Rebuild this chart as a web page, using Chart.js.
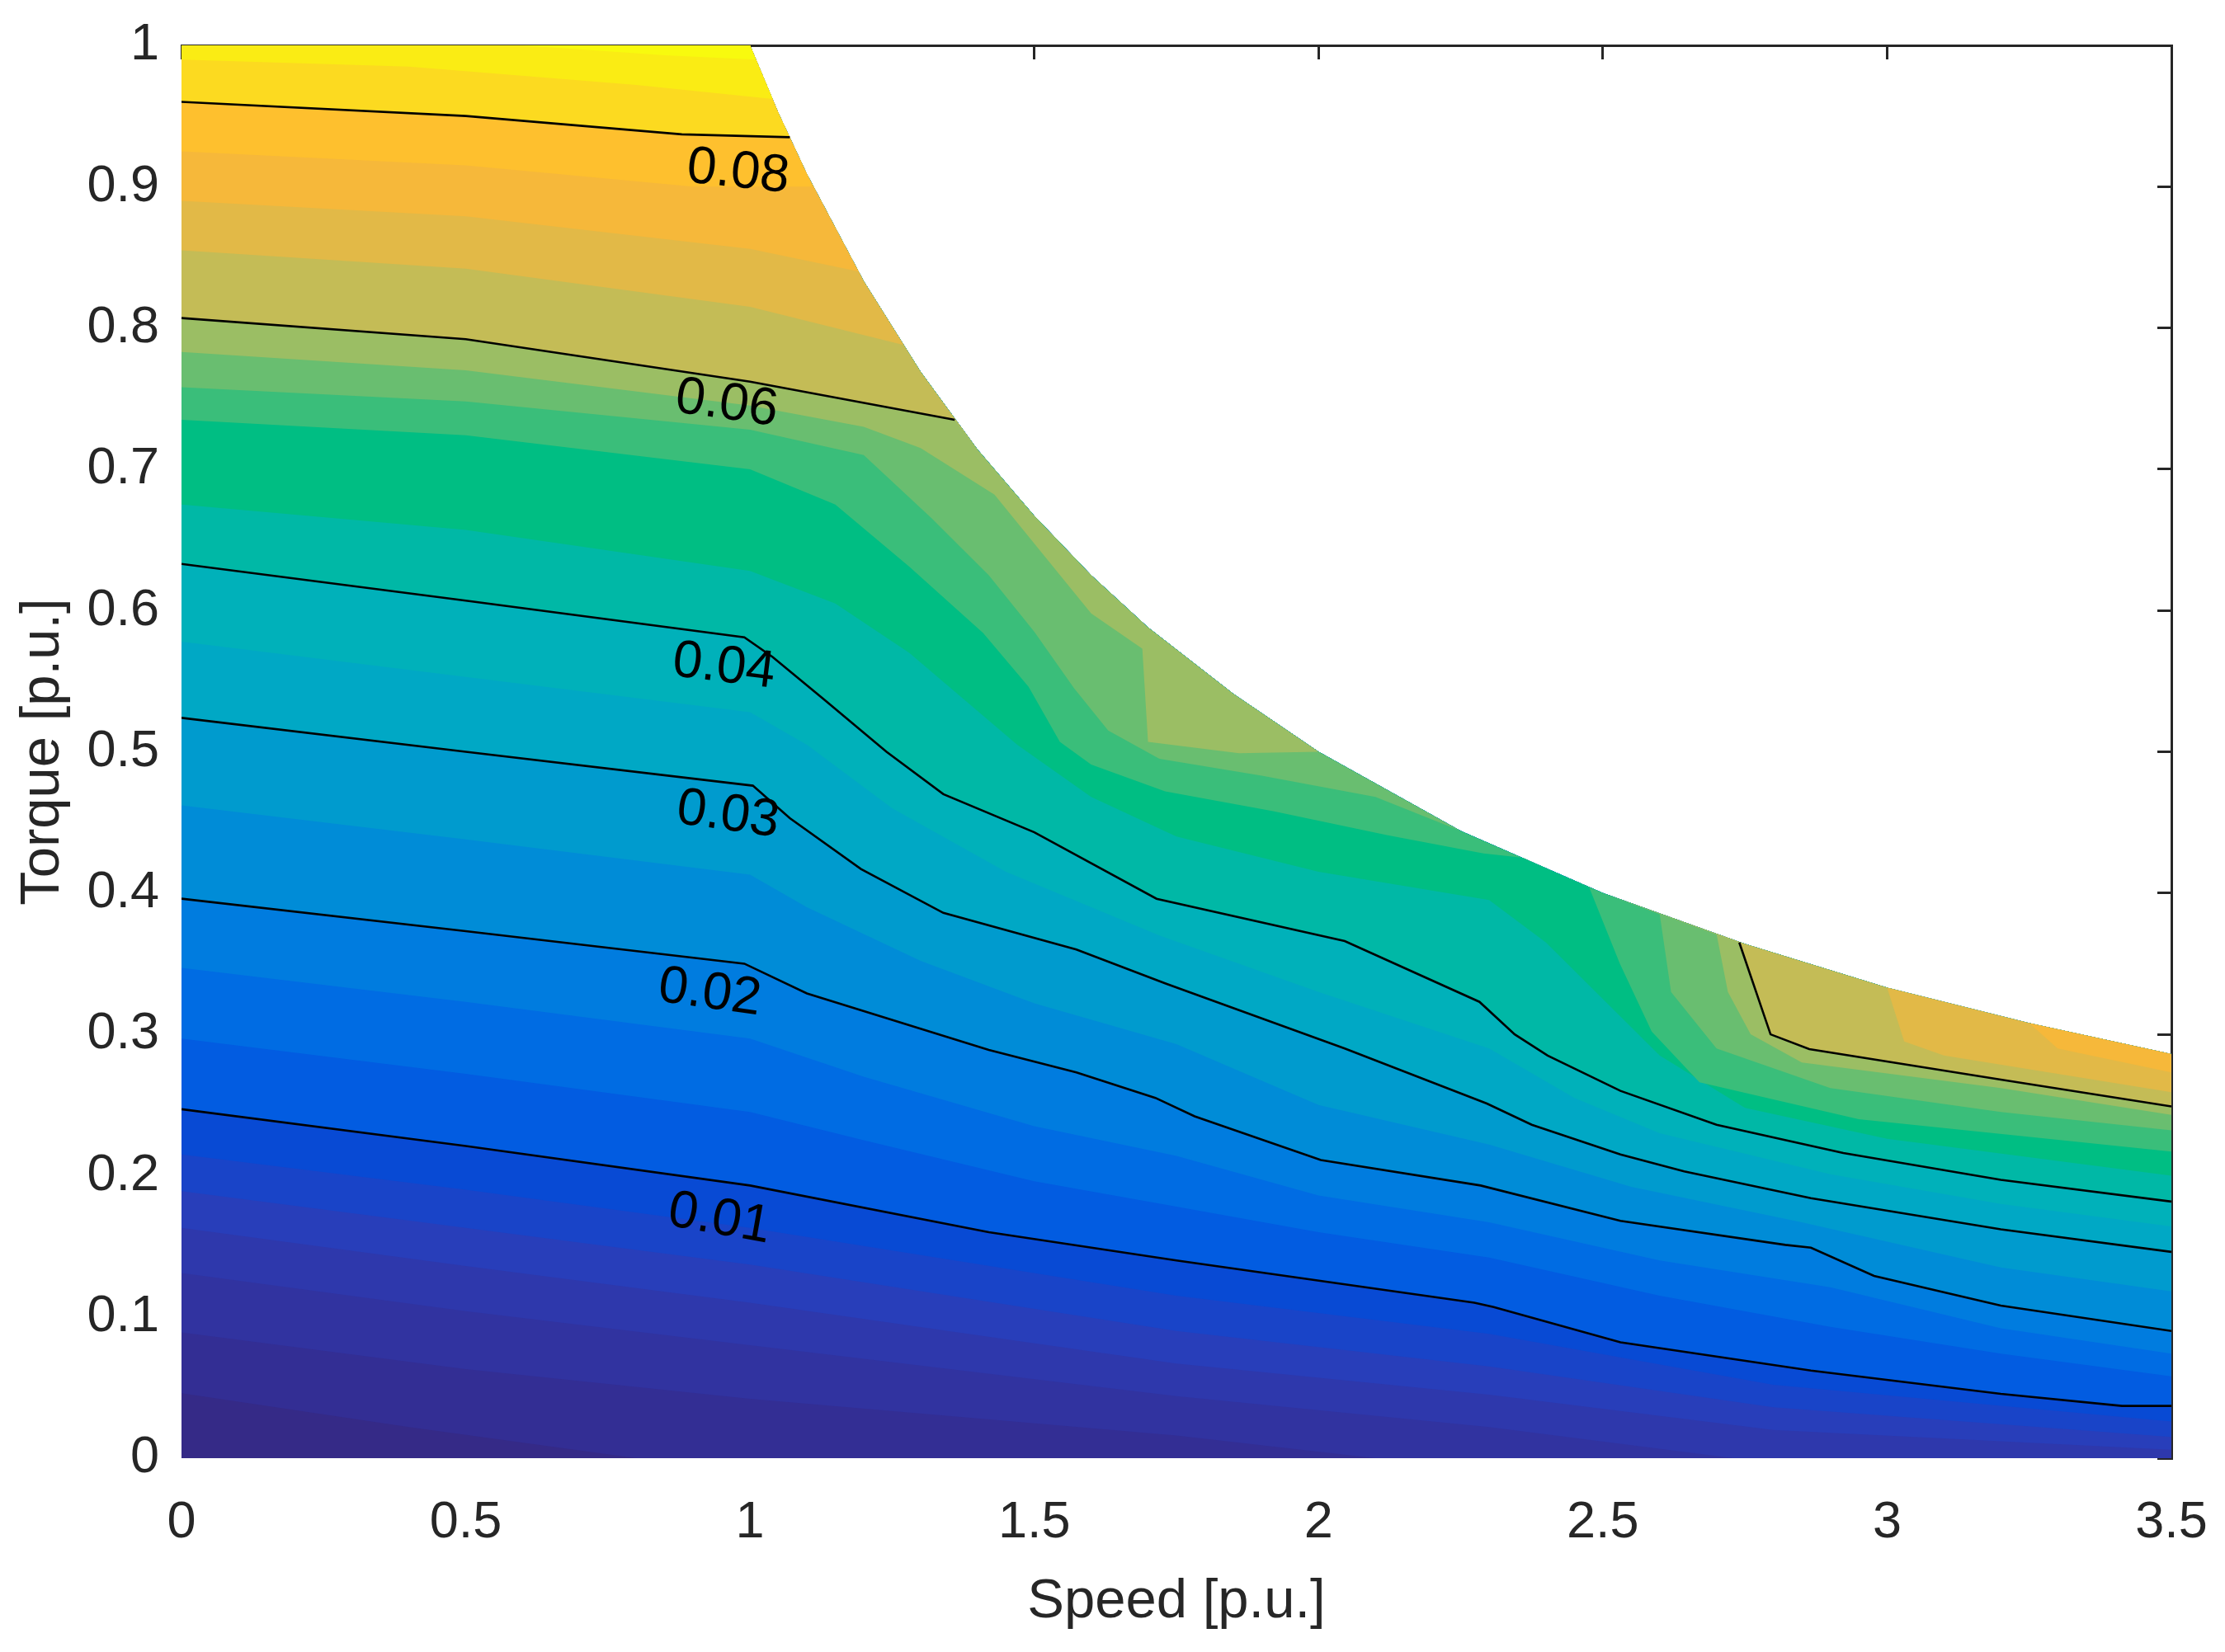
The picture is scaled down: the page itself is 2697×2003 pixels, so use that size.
<!DOCTYPE html>
<html>
<head>
<meta charset="utf-8">
<script src="https://cdn.jsdelivr.net/npm/chart.js@4.4.1/dist/chart.umd.min.js"></script>
<style>
  html, body { margin: 0; padding: 0; background: #fff; }
  #wrap { width: 2697px; height: 2003px; }
</style>
</head>
<body>
<div id="wrap"><canvas id="myChart" width="2697" height="2003"></canvas></div>
<script>
// axis ticks
const speedTicks = [0, 0.5, 1, 1.5, 2, 2.5, 3, 3.5];
const speedTickLabels = ['0', '0.5', '1', '1.5', '2', '2.5', '3', '3.5'];
const torqueTicks = [0, 0.1, 0.2, 0.3, 0.4, 0.5, 0.6, 0.7, 0.8, 0.9, 1];
const torqueTickLabels = ['0', '0.1', '0.2', '0.3', '0.4', '0.5', '0.6', '0.7', '0.8', '0.9', '1'];

// max torque curve [speed, torque] - edge of the coloured area
const maxTorque = [[1,1],[1.05,0.952],[1.1,0.909],[1.2,0.833],[1.3,0.769],[1.4,0.714],[1.5,0.667],
  [1.6,0.625],[1.7,0.588],[1.85,0.541],[2.0,0.5],[2.25,0.444],[2.5,0.4],[2.75,0.364],[3.0,0.333],
  [3.25,0.308],[3.5,0.286]];

// iso loss lines [speed, torque], null = line leaves the area
const iso0000 = [[0,0],[3.5,0]];
const iso0055 = [[0,0.046],[0.4,0.022],[0.8,0],[3.5,0]];
const iso0063 = [[0,0.089],[0.5,0.063],[1.0,0.042],[1.75,0.016],[2.1,0],[3.5,0]];
const iso0071 = [[0,0.131],[0.5,0.104],[1.0,0.08],[1.75,0.044],[2.3,0.022],[2.73,0],[3.5,0]];
const iso0079 = [[0,0.163],[0.5,0.136],[1.0,0.11],[1.75,0.067],[2.3,0.045],[2.8,0.02],[3.5,0.006]];
const iso0087 = [[0,0.189],[0.5,0.163],[1.0,0.137],[1.75,0.09],[2.3,0.065],[2.8,0.036],[3.5,0.015]];
const iso0094 = [[0,0.215],[0.5,0.19],[1.0,0.163],[1.75,0.115],[2.3,0.088],[2.8,0.052],[3.5,0.026]];
const iso010 = [[0,0.247],[0.5,0.221],[1.0,0.193],[1.42,0.160],[1.75,0.140],[2.274,0.110],[2.308,0.107],
  [2.531,0.082],[2.866,0.062],[3.2,0.0455],[3.413,0.037],[3.5,0.037]];
const iso0133 = [[0,0.297],[0.5,0.272],[1.0,0.245],[1.2,0.225],[1.5,0.196],[1.75,0.178],[2.0,0.16],
  [2.3,0.142],[2.6,0.115],[2.9,0.093],[3.2,0.074],[3.5,0.058]];
const iso0167 = [[0,0.347],[0.5,0.323],[1.0,0.297],[1.2,0.27],[1.5,0.235],[1.75,0.214],[2.0,0.186],
  [2.3,0.167],[2.6,0.14],[2.9,0.121],[3.2,0.092],[3.5,0.074]];
const iso020 = [[0,0.396],[0.5,0.373],[0.99,0.35],[1.10,0.329],[1.42,0.289],[1.574,0.273],[1.713,0.255],
  [1.782,0.242],[2.004,0.211],[2.285,0.193],[2.531,0.168],[2.821,0.151],[2.866,0.149],[2.977,0.129],
  [3.2,0.108],[3.5,0.090]];
const iso025 = [[0,0.462],[0.5,0.438],[1.0,0.413],[1.1,0.39],[1.3,0.352],[1.5,0.322],[1.75,0.293],
  [2.0,0.25],[2.3,0.222],[2.55,0.192],[2.85,0.167],[3.2,0.135],[3.5,0.118]];
const iso030 = [[0,0.524],[0.5,0.50],[1.005,0.476],[1.07,0.453],[1.195,0.417],[1.34,0.386],[1.574,0.36],
  [1.731,0.336],[2.046,0.29],[2.296,0.251],[2.375,0.236],[2.531,0.215],[2.643,0.203],[2.866,0.184],
  [3.2,0.162],[3.5,0.146]];
const iso035 = [[0,0.578],[0.5,0.553],[1.0,0.528],[1.1,0.505],[1.25,0.46],[1.45,0.415],[1.72,0.37],
  [2.0,0.33],[2.3,0.29],[2.45,0.255],[2.6,0.23],[2.9,0.201],[3.2,0.18],[3.5,0.164]];
const iso040 = [[0,0.633],[0.5,0.607],[0.99,0.581],[1.04,0.567],[1.13,0.537],[1.24,0.50],[1.34,0.47],
  [1.5,0.443],[1.715,0.396],[2.046,0.366],[2.283,0.323],[2.345,0.30],[2.403,0.285],[2.531,0.26],
  [2.70,0.236],[2.923,0.216],[3.2,0.197],[3.5,0.1816]];
const iso045 = [[0,0.675],[0.5,0.657],[1.0,0.628],[1.15,0.605],[1.28,0.57],[1.47,0.505],[1.6,0.468],
  [1.75,0.44],[2.0,0.415],[2.3,0.395],[2.4,0.365],[2.5,0.325],[2.6,0.285],[2.75,0.248],[3.0,0.226],[3.5,0.2]];
const iso050 = [[0,0.735],[0.5,0.724],[1.0,0.70],[1.15,0.675],[1.28,0.631],[1.41,0.584],[1.49,0.546],
  [1.545,0.507],[1.6,0.491],[1.73,0.472],[1.92,0.458],[2.12,0.441],[2.29,0.428],[2.36,0.425], null,
  [2.476,0.404],[2.53,0.35],[2.586,0.302],[2.67,0.266],[2.95,0.24],[3.5,0.217]];
const iso054 = [[0,0.758],[0.5,0.748],[1.0,0.728],[1.2,0.71],[1.32,0.665],[1.42,0.625],[1.5,0.585],
  [1.57,0.545],[1.63,0.515],[1.72,0.495],[1.9,0.483],[2.1,0.468],[2.25,0.444], null,
  [2.6,0.385],[2.62,0.33],[2.7,0.29],[2.9,0.262],[3.2,0.245],[3.5,0.232]];
const iso057 = [[0,0.783],[0.5,0.77],[1.0,0.745],[1.2,0.73],[1.3,0.715],[1.43,0.682],[1.6,0.598],
  [1.69,0.573],[1.70,0.507],[1.86,0.499],[2.0,0.5], null,
  [2.7,0.371],[2.72,0.33],[2.76,0.30],[2.85,0.28],[3.2,0.262],[3.5,0.243]];
const iso060 = [[0,0.807],[0.5,0.792],[1.0,0.762],[1.36,0.735], null,
  [2.74,0.365],[2.795,0.300],[2.863,0.2895],[3.2,0.268],[3.5,0.249]];
const iso065 = [[0,0.855],[0.5,0.842],[1.0,0.815],[1.27,0.788], null,
  [3.0,0.333],[3.03,0.295],[3.1,0.285],[3.5,0.259]];
const iso070 = [[0,0.89],[0.5,0.879],[1.0,0.856],[1.19,0.84], null,
  [3.25,0.308],[3.3,0.29],[3.5,0.273]];
const iso075 = [[0,0.925],[0.5,0.915],[0.9,0.9],[1.11,0.9]];
const iso080 = [[0,0.960],[0.5,0.950],[0.88,0.937],[1.07,0.935]];
const iso085 = [[0,0.99],[0.4,0.985],[0.8,0.972],[1.04,0.962]];
const iso090 = [[0.6,1.0],[0.85,0.993],[1.01,0.99]];

// filled bands, from low to high loss
const bandLines = [iso0000, iso0055, iso0063, iso0071, iso0079, iso0087, iso0094, iso010, iso0133,
  iso0167, iso020, iso025, iso030, iso035, iso040, iso045, iso050, iso054, iso057, iso060, iso065,
  iso070, iso075, iso080, iso085, iso090];
const bandColors = ['rgb(53,42,135)', 'rgb(51,46,148)', 'rgb(49,51,160)', 'rgb(46,56,172)',
  'rgb(40,62,186)', 'rgb(25,68,200)', 'rgb(8,74,212)', 'rgb(2,92,225)', 'rgb(0,108,227)',
  'rgb(0,124,223)', 'rgb(0,140,215)', 'rgb(0,155,206)', 'rgb(0,168,197)', 'rgb(0,177,186)',
  'rgb(0,184,166)', 'rgb(0,190,131)', 'rgb(58,190,122)', 'rgb(105,190,112)', 'rgb(155,190,100)',
  'rgb(196,188,86)', 'rgb(226,185,71)', 'rgb(246,184,58)', 'rgb(254,192,46)', 'rgb(252,218,32)',
  'rgb(250,236,20)', 'rgb(248,250,14)'];

// black labelled contours
const contourLines = [iso010, iso020, iso030, iso040, iso060, iso080];
const labelText = ['0.08', '0.06', '0.04', '0.03', '0.02', '0.01'];
const labelSpeed = [0.979, 0.959, 0.954, 0.961, 0.929, 0.946];
const labelTorque = [0.910, 0.746, 0.560, 0.455, 0.329, 0.169];
const labelAngle = [6, 8, 7, 8, 8, 10];

const ink = '#262626';
Chart.defaults.font.family = '"Liberation Sans", Arial, sans-serif';

// area above an iso line, closed along the max torque curve
function region(line) {
  const parts = [[]];
  line.forEach(p => p ? parts[parts.length - 1].push(p) : parts.push([]));
  const out = [];
  parts.forEach((part, k) => {
    if (k > 0) {
      const prev = parts[k - 1];
      const xa = prev[prev.length - 1][0], xb = part[0][0];
      maxTorque.forEach(p => { if (p[0] > xa && p[0] < xb) out.push(p); });
    }
    out.push(...part);
  });
  const xe = out[out.length - 1][0];
  for (let i = maxTorque.length - 1; i >= 0; i--) {
    if (maxTorque[i][0] < xe || xe >= 3.5) out.push(maxTorque[i]);
  }
  out.push([0, 1]);
  return out.map(p => ({ x: p[0], y: p[1] }));
}

function toPoints(line) {
  return line.map((p, i) => p ? { x: p[0], y: p[1] } : { x: line[i - 1][0], y: null });
}

const datasets = [];
contourLines.forEach(line => datasets.push({
  data: toPoints(line),
  borderColor: '#000',
  borderWidth: 2.6,
  pointRadius: 0,
  fill: false,
  order: 0,
}));
bandLines.forEach((line, i) => datasets.push({
  data: region(line),
  borderWidth: 0,
  borderColor: 'transparent',
  backgroundColor: bandColors[i],
  pointRadius: 0,
  fill: 'shape',
  order: 1000 - i,
}));

const contourLabels = {
  id: 'contourLabels',
  afterDatasetsDraw(chart) {
    const { ctx, scales: { x, y } } = chart;
    ctx.save();
    ctx.font = '64px "Liberation Sans", Arial, sans-serif';
    ctx.fillStyle = '#000';
    ctx.textAlign = 'center';
    ctx.textBaseline = 'middle';
    labelText.forEach((t, i) => {
      ctx.save();
      ctx.translate(x.getPixelForValue(labelSpeed[i]), y.getPixelForValue(labelTorque[i]));
      ctx.rotate(labelAngle[i] * Math.PI / 180);
      ctx.fillText(t, 0, 0);
      ctx.restore();
    });
    ctx.restore();
  }
};

const setTicks = (vals) => (s) => { s.ticks = vals.map(v => ({ value: v })); };
const tickMarks = { display: true, drawOnChartArea: false, drawTicks: true, tickLength: -17, color: ink, lineWidth: 3 };

new Chart(document.getElementById('myChart'), {
  type: 'line',
  data: { datasets },
  options: {
    responsive: false,
    devicePixelRatio: 1,
    animation: false,
    events: [],
    layout: { padding: { left: 0, top: 0, right: 65, bottom: 0 } },
    plugins: { legend: { display: false }, tooltip: { enabled: false } },
    scales: {
      x: {
        type: 'linear', position: 'bottom', min: 0, max: 3.5,
        afterBuildTicks: setTicks(speedTicks),
        afterFit: s => { s.height = 235; s.paddingLeft = 0; s.paddingRight = 0; },
        ticks: { callback: (v, i) => speedTickLabels[i], color: ink, font: { size: 63 }, padding: 41, maxRotation: 0, autoSkip: false },
        grid: { display: false, drawTicks: false },
        border: { display: false },
        title: { display: true, text: 'Speed [p.u.]', color: ink, font: { size: 67 }, padding: { top: 0, bottom: 20 } },
      },
      y: {
        type: 'linear', position: 'left', min: 0, max: 1,
        afterBuildTicks: setTicks(torqueTicks),
        afterFit: s => { s.width = 220; s.paddingTop = 0; s.paddingBottom = 0; },
        ticks: { callback: (v, i) => torqueTickLabels[i], color: ink, font: { size: 63 }, padding: 27, autoSkip: false },
        grid: { display: false, drawTicks: false },
        border: { display: false },
        title: { display: true, text: 'Torque [p.u.]', color: ink, font: { size: 67 }, padding: { top: 12, bottom: 0 } },
      },
      x2: {
        type: 'linear', position: 'top', min: 0, max: 3.5,
        afterBuildTicks: setTicks(speedTicks),
        afterFit: s => { s.height = 55; s.paddingLeft = 0; s.paddingRight = 0; },
        ticks: { display: false },
        grid: tickMarks,
        border: { display: true, color: ink, width: 3 },
      },
      y2: {
        type: 'linear', position: 'right', min: 0, max: 1,
        afterBuildTicks: setTicks(torqueTicks),
        afterFit: s => { s.width = 0; s.paddingTop = 0; s.paddingBottom = 0; },
        ticks: { display: false },
        grid: tickMarks,
        border: { display: true, color: ink, width: 3 },
      },
    },
  },
  plugins: [contourLabels],
});
</script>
</body>
</html>
